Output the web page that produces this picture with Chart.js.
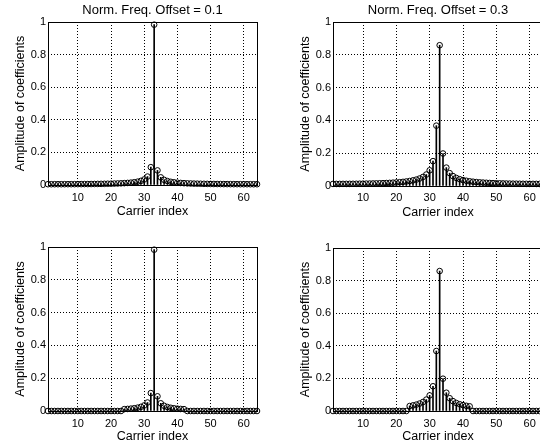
<!DOCTYPE html>
<html>
<head>
<meta charset="utf-8">
<title>ICI coefficients</title>
<script src="https://cdn.jsdelivr.net/npm/chart.js@4.4.1/dist/chart.umd.min.js"></script>
<style>
  html, body { margin: 0; padding: 0; background: #fff; overflow: hidden; }
  #fig { position: relative; width: 540px; height: 446px; overflow: hidden; }
  #fig canvas { position: absolute; }
</style>
</head>
<body>
<div id="fig">
  <canvas id="c1"></canvas>
  <canvas id="c2"></canvas>
  <canvas id="c3"></canvas>
  <canvas id="c4"></canvas>
</div>
<script>
// Carrier indices (x axis)
const carrier = [
  1, 2, 3, 4, 5, 6, 7, 8, 9, 10, 11, 12, 13, 14, 15, 16,
  17, 18, 19, 20, 21, 22, 23, 24, 25, 26, 27, 28, 29, 30, 31, 32,
  33, 34, 35, 36, 37, 38, 39, 40, 41, 42, 43, 44, 45, 46, 47, 48,
  49, 50, 51, 52, 53, 54, 55, 56, 57, 58, 59, 60, 61, 62, 63, 64
];
const xTicks = [10, 20, 30, 40, 50, 60];
const yTicks = [0, 0.2, 0.4, 0.6, 0.8, 1];

// Amplitude of coefficients, offset 0.1
const ampOffset01 = [
  0.0048, 0.0048, 0.0049, 0.0049, 0.0049, 0.0050, 0.0051, 0.0051, 0.0052, 0.0054,
  0.0055, 0.0057, 0.0058, 0.0060, 0.0063, 0.0066, 0.0069, 0.0072, 0.0077, 0.0082,
  0.0088, 0.0095, 0.0103, 0.0114, 0.0128, 0.0145, 0.0169, 0.0203, 0.0254, 0.0340,
  0.0518, 0.1093, 0.9836, 0.0895, 0.0469, 0.0319, 0.0242, 0.0195, 0.0164, 0.0141,
  0.0125, 0.0112, 0.0101, 0.0093, 0.0086, 0.0081, 0.0076, 0.0072, 0.0068, 0.0065,
  0.0062, 0.0060, 0.0058, 0.0056, 0.0055, 0.0053, 0.0052, 0.0051, 0.0050, 0.0050,
  0.0049, 0.0049, 0.0048, 0.0048
];

// Amplitude of coefficients, offset 0.3
const ampOffset03 = [
  0.0126, 0.0127, 0.0127, 0.0128, 0.0129, 0.0131, 0.0133, 0.0135, 0.0138, 0.0141,
  0.0145, 0.0149, 0.0154, 0.0159, 0.0166, 0.0173, 0.0181, 0.0191, 0.0203, 0.0217,
  0.0233, 0.0252, 0.0276, 0.0305, 0.0343, 0.0391, 0.0458, 0.0553, 0.0700, 0.0957,
  0.1517, 0.3680, 0.8584, 0.1982, 0.1122, 0.0784, 0.0603, 0.0491, 0.0415, 0.0360,
  0.0319, 0.0287, 0.0261, 0.0240, 0.0223, 0.0208, 0.0196, 0.0185, 0.0176, 0.0168,
  0.0162, 0.0156, 0.0151, 0.0146, 0.0142, 0.0139, 0.0136, 0.0134, 0.0132, 0.0130,
  0.0129, 0.0128, 0.0127, 0.0127
];

// Bottom row: only carriers 24..42 are non-zero
const ampOffset01Win = [
  0, 0, 0, 0, 0, 0, 0, 0, 0, 0,
  0, 0, 0, 0, 0, 0, 0, 0, 0, 0,
  0, 0, 0, 0.0114, 0.0128, 0.0145, 0.0169, 0.0203, 0.0254, 0.0340,
  0.0518, 0.1093, 0.9836, 0.0895, 0.0469, 0.0319, 0.0242, 0.0195, 0.0164, 0.0141,
  0.0125, 0.0112, 0, 0, 0, 0, 0, 0, 0, 0,
  0, 0, 0, 0, 0, 0, 0, 0, 0, 0,
  0, 0, 0, 0
];

const ampOffset03Win = [
  0, 0, 0, 0, 0, 0, 0, 0, 0, 0,
  0, 0, 0, 0, 0, 0, 0, 0, 0, 0,
  0, 0, 0, 0.0305, 0.0343, 0.0391, 0.0458, 0.0553, 0.0700, 0.0957,
  0.1517, 0.3680, 0.8584, 0.1982, 0.1122, 0.0784, 0.0603, 0.0491, 0.0415, 0.0360,
  0.0319, 0.0287, 0, 0, 0, 0, 0, 0, 0, 0,
  0, 0, 0, 0, 0, 0, 0, 0, 0, 0,
  0, 0, 0, 0
];

Chart.defaults.font.family = '"Liberation Sans", Arial, Helvetica, sans-serif';
Chart.defaults.color = '#000';

// solid box round the plot area (matlab "box on")
const boxPlugin = {
  id: 'box',
  afterDatasetsDraw(chart) {
    const { ctx, chartArea: a } = chart;
    ctx.save();
    ctx.strokeStyle = '#000';
    ctx.lineWidth = 1;
    ctx.strokeRect(Math.round(a.left) + 0.5, Math.round(a.top) + 0.5,
      Math.round(a.right - a.left), Math.round(a.bottom - a.top));
    ctx.restore();
  }
};

const panels = [
  { id: 'c1', left: 0,   top: 0,   values: ampOffset01,    title: 'Norm. Freq. Offset = 0.1', padTop: 0,  padRight: 13, xAxisH: 38, tickPad: 6, xTitlePad: 3.5 },
  { id: 'c2', left: 285, top: 0,   values: ampOffset03,    title: 'Norm. Freq. Offset = 0.3', padTop: 0,  padRight: 12, xAxisH: 37, tickPad: 5, xTitlePad: 2.5 },
  { id: 'c3', left: 0,   top: 223, values: ampOffset01Win, title: '',                         padTop: 24, padRight: 13, xAxisH: 35, tickPad: 6, xTitlePad: 1.5 },
  { id: 'c4', left: 285, top: 223, values: ampOffset03Win, title: '',                         padTop: 25, padRight: 12, xAxisH: 35, tickPad: 6, xTitlePad: 1.5 }
];

// matlab style labels: 0, 0.2, ..., 1
function shortLabel(v) {
  return String(Number(Number(v).toFixed(1)));
}

function makeStemChart(p) {
  const canvas = document.getElementById(p.id);
  canvas.width = 270;
  canvas.height = 223;
  canvas.style.left = p.left + 'px';
  canvas.style.top = p.top + 'px';

  const points = carrier.map((k, i) => ({ x: k, y: p.values[i] }));
  const gridOpts = { color: '#000', lineWidth: 1, drawTicks: false, offset: false };
  const borderOpts = { display: false, dash: [1, 2] };

  return new Chart(canvas, {
    type: 'bar',
    data: {
      datasets: [
        {
          type: 'line',
          data: points,
          showLine: false,
          pointRadius: 2.8,
          pointBorderWidth: 1,
          pointBorderColor: '#000',
          pointBackgroundColor: 'rgba(0,0,0,0)',
          clip: false,
          order: 1
        },
        {
          type: 'bar',
          data: points,
          backgroundColor: '#000',
          barThickness: 1,
          order: 2
        }
      ]
    },
    options: {
      responsive: false,
      animation: false,
      layout: { padding: { top: p.padTop, right: p.padRight, left: 0, bottom: 0 } },
      plugins: {
        legend: { display: false },
        tooltip: { enabled: false },
        title: {
          display: !!p.title,
          text: p.title,
          fullSize: false,
          color: '#000',
          font: { size: 13, lineHeight: 1, weight: 'normal' },
          padding: { top: 4, bottom: 5 }
        }
      },
      scales: {
        x: {
          type: 'linear',
          min: 1,
          max: 64,
          offset: false,
          afterBuildTicks: s => { s.ticks = xTicks.map(v => ({ value: v })); },
          afterFit: s => { s.height = p.xAxisH; },
          grid: gridOpts,
          border: borderOpts,
          ticks: { padding: p.tickPad, font: { size: 11 }, maxRotation: 0, autoSkip: false },
          title: {
            display: true,
            text: 'Carrier index',
            font: { size: 12.5 },
            padding: { top: 0, bottom: p.xTitlePad }
          }
        },
        y: {
          min: 0,
          max: 1,
          afterBuildTicks: s => { s.ticks = yTicks.map(v => ({ value: v })); },
          afterFit: s => { s.width = 48; },
          grid: gridOpts,
          border: borderOpts,
          ticks: { padding: 2, font: { size: 11 }, autoSkip: false, callback: shortLabel },
          title: {
            display: true,
            text: 'Amplitude of coefficients',
            font: { size: 12.5 },
            padding: { top: 13.5, bottom: 0 }
          }
        }
      }
    },
    plugins: [boxPlugin]
  });
}

panels.forEach(makeStemChart);
</script>
</body>
</html>
